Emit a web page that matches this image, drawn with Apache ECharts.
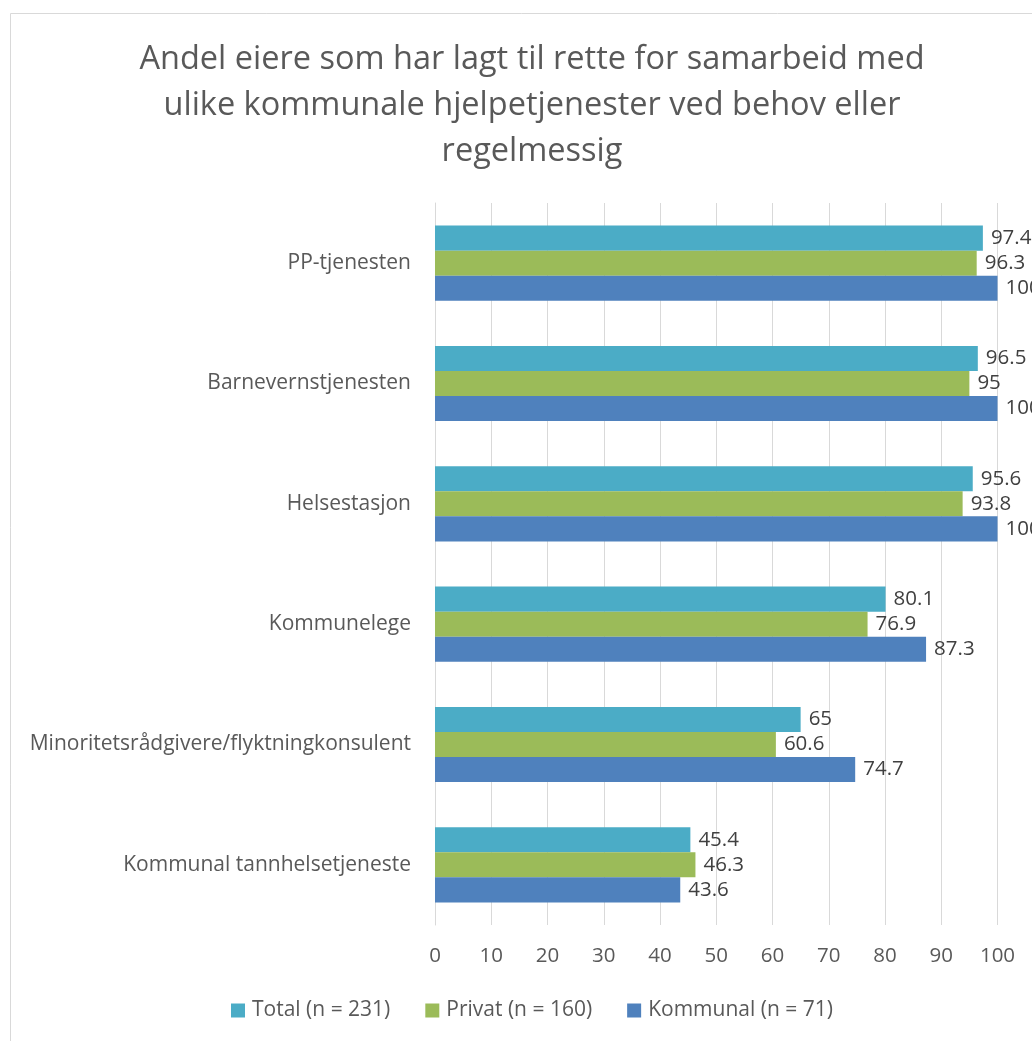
<!DOCTYPE html>
<html>
<head>
<meta charset="utf-8">
<script src="https://cdn.jsdelivr.net/npm/echarts@6/dist/echarts.min.js"></script>
<style>html,body{margin:0;padding:0;background:#fff}#c{width:1032px;height:1041px}</style>
</head>
<body>
<div id="c"></div>
<script>
const titleText = 'Andel eiere som har lagt til rette for samarbeid med\nulike kommunale hjelpetjenester ved behov eller\nregelmessig';
const categories = ['PP-tjenesten', 'Barnevernstjenesten', 'Helsestasjon', 'Kommunelege', 'Minoritetsrådgivere/flyktningkonsulent', 'Kommunal tannhelsetjeneste'];
const seriesNames = ['Total (n = 231)', 'Privat (n = 160)', 'Kommunal (n = 71)'];
const totalValues = [97.4, 96.5, 95.6, 80.1, 65, 45.4];
const privatValues = [96.3, 95, 93.8, 76.9, 60.6, 46.3];
const kommunalValues = [100, 100, 100, 87.3, 74.7, 43.6];
const xTicks = [0, 10, 20, 30, 40, 50, 60, 70, 80, 90, 100];

const colors = ['#4BACC6', '#9BBB59', '#4F81BD'];
const font = '"Open Sans", "Noto Sans", sans-serif';
const chart = echarts.init(document.getElementById('c'), null, {renderer: 'canvas'});
const values = [totalValues, privatValues, kommunalValues];
chart.setOption({
  animation: false,
  graphic: [{type: 'rect', shape: {x: 10.5, y: 13.5, width: 1200, height: 1200}, style: {fill: 'none', stroke: '#d9d9d9', lineWidth: 1}, silent: true, z: -10}],
  title: {
    text: titleText, left: 527, top: 32, textAlign: 'center',
    textStyle: {fontFamily: font, fontWeight: 'normal', fontSize: 32.5, lineHeight: 46, color: '#595959'}
  },
  legend: {
    bottom: 15, left: 226, itemWidth: 14, itemHeight: 14, itemGap: 35,
    icon: 'rect',
    textStyle: {fontFamily: font, fontSize: 21, color: '#595959', padding: [0, 0, 0, 2]},
    data: seriesNames
  },
  grid: {left: 435, right: 34.5, top: 203, bottom: 116, containLabel: false},
  xAxis: {
    type: 'value', min: xTicks[0], max: xTicks[xTicks.length - 1], interval: 10,
    axisLine: {show: false}, axisTick: {show: false},
    splitLine: {lineStyle: {color: '#d9d9d9', width: 1}},
    axisLabel: {fontFamily: font, fontSize: 20.5, color: '#595959', margin: 21}
  },
  yAxis: {
    type: 'category', data: categories, inverse: true,
    axisLine: {show: true, lineStyle: {color: '#d9d9d9'}}, axisTick: {show: false},
    axisLabel: {fontFamily: font, fontSize: 21, color: '#595959', margin: 24}
  },
  series: seriesNames.map((n, i) => ({
    name: n, type: 'bar', data: values[i],
    barGap: '0%', barCategoryGap: '37.6%',
    itemStyle: {color: colors[i]},
    label: {show: true, position: 'right', distance: 8, fontFamily: font, fontSize: 20.5, color: '#404040'}
  }))
});
</script>
</body>
</html>
